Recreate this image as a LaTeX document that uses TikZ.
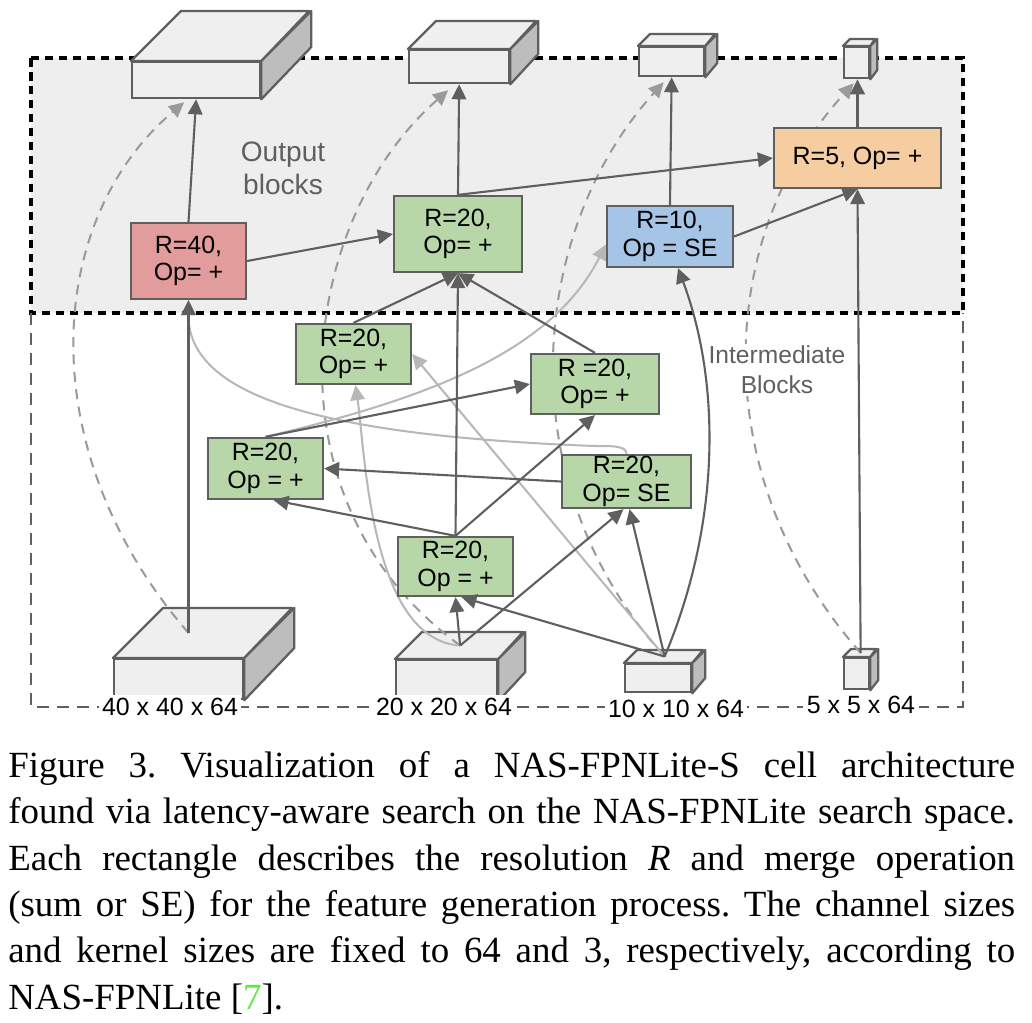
\documentclass[tikz,border=0pt]{standalone}
\usepackage{fontspec}
\setmainfont{Liberation Serif}
\newfontfamily\diagfont{Liberation Sans}
\usepackage{xcolor}
\definecolor{linegray}{HTML}{5F5F5F}
\definecolor{palegray}{HTML}{B7B7B7}
\definecolor{dashgray}{HTML}{9A9A9A}
\definecolor{regiongray}{HTML}{EEEEEE}
\definecolor{boxgreen}{HTML}{B8D7A9}
\definecolor{boxred}{HTML}{E29C9C}
\definecolor{boxblue}{HTML}{A6C4E6}
\definecolor{boxorange}{HTML}{F6CDA0}
\definecolor{cubeface}{HTML}{EFEFEF}
\definecolor{cubeshade}{HTML}{BDBDBD}
\definecolor{citegreen}{rgb}{0.35,0.92,0.25}
\usepackage{tikz}
\usetikzlibrary{positioning,calc,backgrounds}
\usetikzlibrary{arrows.meta}
\pgfdeclarelayer{lines}
\pgfsetlayers{background,lines,main}
\tikzset{>={Triangle[length=0.3cm,width=0.29cm]}}
\tikzset{
  blk/.style={draw=linegray,line width=1.3pt,inner sep=0pt,align=center,
    font=\diagfont\fontsize{14.2}{15.6}\selectfont},
  cubefront/.style={draw=linegray,fill=cubeface,line width=1.3pt,inner sep=0pt,anchor=north west},
  cubetop/.style={draw=linegray,fill=cubeface,line width=1.3pt,line join=round},
  cubeside/.style={draw=linegray,fill=cubeshade,line width=1.3pt,line join=round},
  sizelbl/.style={fill=white,inner sep=2pt,font=\diagfont\fontsize{14.2}{16}\selectfont},
  darklink/.style={->,draw=linegray,line width=1.2pt},
  lightlink/.style={->,draw=palegray,line width=1.15pt},
  skiplink/.style={->,draw=dashgray,line width=1.15pt,dash pattern=on 0.2cm off 0.15cm}
}
% #1 name, #2 #3 front top-left, #4 width, #5 height, #6 depth
\newcommand{\cuboid}[6]{%
  \node[cubefront,minimum width=#4*0.02cm,minimum height=#5*0.02cm] (#1) at (#2,#3) {};
  \filldraw[cubetop] (#1.north west) -- ++(#6,-#6) -- ++(#4,0) -- (#1.north east) -- cycle;
  \filldraw[cubeside] (#1.north east) -- ++(#6,-#6) -- ++(0,#5) -- (#1.south east) -- cycle;
  \coordinate (#1top) at ($(#1.north)+(#6/2,-#6/2)$);
}

\begin{document}
\begin{tikzpicture}[x=0.02cm,y=-0.02cm]
  \useasboundingbox (0,0) rectangle (1032,1022);
  \begin{pgfonlayer}{background}
    \draw[fill=regiongray,draw=black,line width=1.8pt,dash pattern=on 0.17cm off 0.11cm] (31,58) rectangle (963,313);
    \draw[draw=linegray,line width=1.3pt,dash pattern=on 0.24cm off 0.16cm] (31,313) -- (31,707) -- (963,707) -- (963,313);
    % output feature maps
    \cuboid{out40}{131}{61}{128}{36}{50}
    \cuboid{out20}{408}{49}{100}{33}{28}
    \cuboid{out10}{638}{46}{65}{29}{12}
    \cuboid{out5}{843}{46}{25}{31}{7}
    % input feature maps
    \cuboid{in40}{113}{658}{129}{40}{50}
    \cuboid{in20}{395}{659}{101}{40}{27}
    \cuboid{in10}{624}{663}{66}{28}{13}
    \cuboid{in5}{843}{657}{25}{31}{8}
  \end{pgfonlayer}

  \node[sizelbl] (lbl40) at (170,707) {40 x 40 x 64};
  \node[sizelbl] (lbl20) at (444,707) {20 x 20 x 64};
  \node[sizelbl] (lbl10) at (676,709) {10 x 10 x 64};
  \node[sizelbl] (lbl5) at (861,705) {5 x 5 x 64};

  % output blocks
  \node[blk,fill=boxred,minimum width=2.3cm,minimum height=1.52cm] (blk40) at (188.5,261) {R=40,\\Op= +};
  \node[blk,fill=boxgreen,minimum width=2.56cm,minimum height=1.52cm] (blk20) at (458,234) {R=20,\\Op= +};
  \node[blk,fill=boxblue,minimum width=2.52cm,minimum height=1.22cm] (blk10) at (670,236.5) {R=10,\\Op = SE};
  \node[blk,fill=boxorange,minimum width=3.34cm,minimum height=1.2cm] (blk5) at (857.5,158) {R=5, Op= +};
  % intermediate blocks
  \node[blk,fill=boxgreen,minimum width=2.3cm,minimum height=1.2cm] (mid1) at (353.5,354) {R=20,\\Op= +};
  \node[blk,fill=boxgreen,minimum width=2.56cm,minimum height=1.2cm] (mid2) at (595,384) {R =20,\\Op= +};
  \node[blk,fill=boxgreen,minimum width=2.3cm,minimum height=1.22cm] (mid3) at (265.5,468.5) {R=20,\\Op = +};
  \node[blk,fill=boxgreen,minimum width=2.58cm,minimum height=1.06cm] (mid4) at (626.5,481.5) {R=20,\\Op= SE};
  \node[blk,fill=boxgreen,minimum width=2.3cm,minimum height=1.18cm] (mid5) at (455.5,566.5) {R=20,\\Op = +};

  \node[text=linegray,align=center,font=\diagfont\fontsize{16}{18.7}\selectfont] (outlbl) at (283,168) {Output\\blocks};
  \node[text=linegray,align=center,fill=white,inner sep=1pt,font=\diagfont\fontsize{14}{17}\selectfont] (midlbl) at (777,370) {Intermediate\\Blocks};

  \begin{pgfonlayer}{lines}
    \draw[skiplink] (blk40.south |- in40top) .. controls (30,450) and (45,220) .. ($(out40.south)+(-12,3)$);
    \draw[skiplink] (in20top) .. controls (260,500) and (300,220) .. ($(out20.south)+(-11,6)$);
    \draw[skiplink] (in10top) .. controls (505,480) and (530,230) .. ($(out10.south)+(-8,5)$);
    \draw[skiplink] (in5top) .. controls (700,470) and (720,230) .. ($(out5.south)+(-3,4)$);
    \draw[lightlink] (mid4.north) .. controls (626,446) and (615,446) .. (595,446) .. controls (300,435) and (188,390) .. (blk40.south);
    \draw[lightlink] (mid3.north) .. controls (420,400) and (550,355) .. ($(blk10.west)+(0,8)$);
    \draw[lightlink] (in10top) -- (mid1.east);
    \draw[lightlink] (in20top) .. controls (370,640) and (365,450) .. ($(mid1.south)+(2,0)$);
  \end{pgfonlayer}

  \draw[darklink] (blk40.north) -- (out40.south);
  \draw[darklink] (blk40.east) -- (blk20.west);
  \draw[darklink] (blk20.north) -- (out20.south);
  \draw[darklink] (blk20.north) -- (blk5.west);
  \draw[darklink] (blk10.north) -- (out10.south);
  \draw[darklink] (blk10.east) -- (blk5.south);
  \draw[darklink] (blk5.north) -- (blk5.north |- out5.south);
  \draw[darklink] (in5top) -- (blk5.south);
  \draw[darklink] (in10top) .. controls (722,520) and (720,380) .. ($(blk10.south)+(8,0)$);
  \draw[darklink] (blk40.south |- in40top) -- (blk40.south);
  \draw[darklink] (mid1.north) -- (blk20.south);
  \draw[darklink] (mid5.north) -- (blk20.south);
  \draw[darklink] (mid2.north) -- (blk20.south);
  \draw[darklink] (mid3.north) -- (mid2.west);
  \draw[darklink] (mid4.west) -- (mid3.east);
  \draw[darklink] (mid5.north) -- ($(mid3.south)+(8,0)$);
  \draw[darklink] (mid5.north) -- (mid2.south);
  \draw[darklink] (in20top) -- (mid5.south);
  \draw[darklink] (in20top) -- ($(mid4.south)+(-3,0)$);
  \draw[darklink] (in10top) -- ($(mid5.south)+(6,0)$);
  \draw[darklink] (in10top) -- ($(mid4.south)+(3,0)$);

  \node[anchor=north west,inner sep=0pt,text width=20.14cm,align=justify,font=\fontsize{21}{26.4}\selectfont] (caption) at (8,751)
    {\frenchspacing\tolerance=10000 \hyphenpenalty=10000 Figure 3. Visualization of a NAS-FPNLite-S cell architecture\linebreak
     found via latency-aware search on the NAS-FPNLite search space.\linebreak
     Each rectangle describes the resolution \textit{R} and merge operation\linebreak
     (sum or SE) for the feature generation process. The channel sizes\linebreak
     and kernel sizes are fixed to 64 and 3, respectively, according to\linebreak
     NAS-FPNLite [{\color{citegreen}7}].};
\end{tikzpicture}
\end{document}
